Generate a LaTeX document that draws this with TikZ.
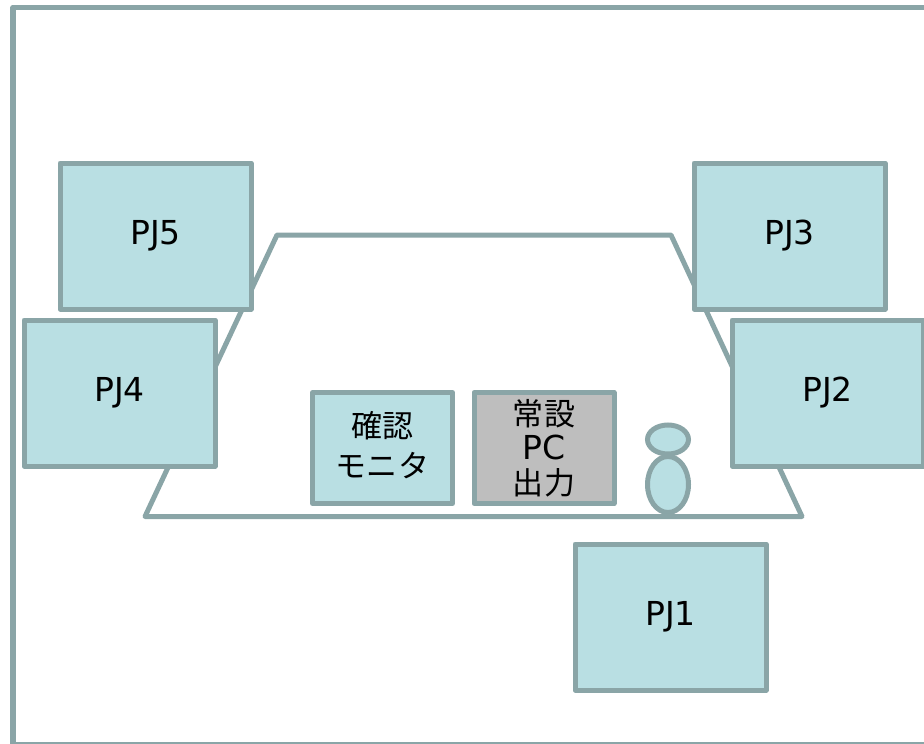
\documentclass[tikz,border=0pt]{standalone}
\usepackage{fontspec}
\setmainfont{DejaVu Sans}
\newfontfamily\cjk[Scale=0.94]{Noto Sans CJK JP}
\usetikzlibrary{positioning}
\usetikzlibrary{shapes.geometric}
\definecolor{edgegray}{HTML}{8AA5A7}
\definecolor{paleblue}{HTML}{B9DFE3}
\definecolor{pcgray}{HTML}{BEBEBE}
\tikzset{
    pjbox/.style={draw=edgegray, fill=paleblue, line width=5pt, line join=round, inner sep=0pt,
        minimum width=191pt, minimum height=146pt, font=\fontsize{33}{40}\selectfont},
    smallbox/.style={pjbox, minimum width=140pt, minimum height=111pt, align=center},
    bodypart/.style={draw=edgegray, fill=paleblue, line width=5pt, ellipse, inner sep=0pt}
}

\begin{document}
\begin{tikzpicture}[x=1pt, y=-1pt]
            \useasboundingbox (0,0) rectangle (924,744);
            \draw[edgegray, line width=5.5pt, line join=round] (13,7.5) rectangle (960,744.5);

            \coordinate (tl) at (277,235);
            \coordinate (tr) at (671,235);
            \coordinate (br) at (802,516.5);
            \coordinate (bl) at (145,516.5);
            \draw[edgegray, line width=5pt, line join=round] (tl) -- (tr) -- (br) -- (bl) -- cycle;

            \node[pjbox] (pj5) at (155.5,236) {PJ5};
            \node[pjbox, below left=6pt and -160pt of pj5] (pj4) {PJ4};
            \node[pjbox] (pj3) at (789.5,236) {PJ3};
            \node[pjbox, below right=6pt and -158pt of pj3] (pj2) {PJ2};
            \node[pjbox] (pj1) at (670.5,617) {PJ1};

            \node[smallbox, text depth=8pt] (monitor) at (382.5,448) {{\cjk 確認}\\{\cjk モニタ}};
            \node[smallbox, fill=pcgray, right=16.5pt of monitor, font=\fontsize{33}{34.5}\selectfont] (pc) {{\cjk 常設}\\PC\\{\cjk 出力}};

            \node[bodypart, minimum width=41pt, minimum height=29pt] (head) at (668,439.5) {};
            \node[bodypart, minimum width=41pt, minimum height=56pt, below=-2.5pt of head] (body) {};
        \end{tikzpicture}
\end{document}
